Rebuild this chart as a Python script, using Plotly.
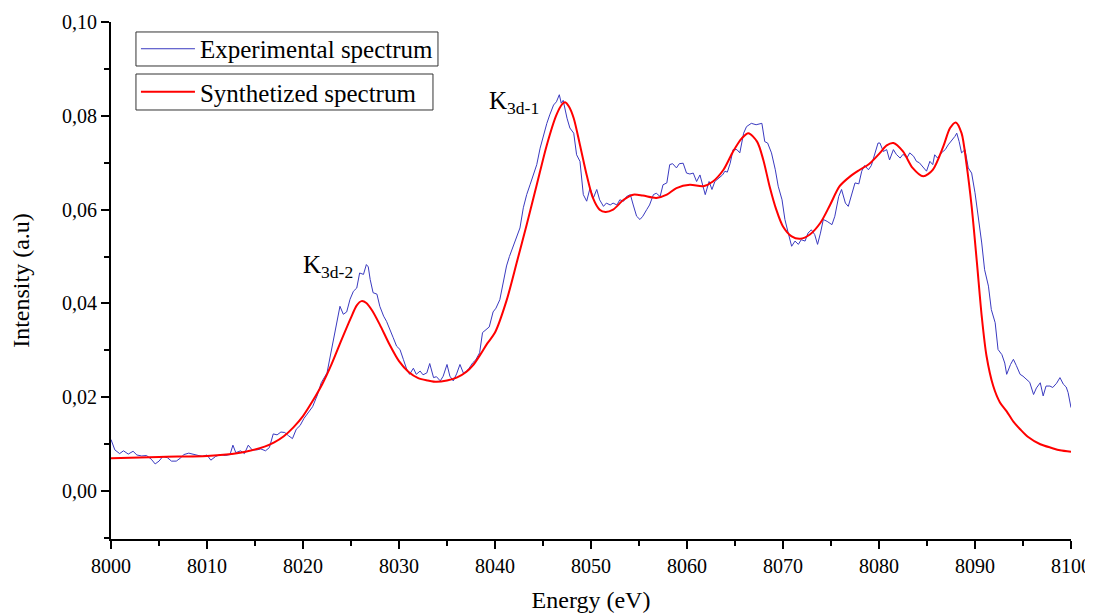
import plotly.graph_objects as go

# Experimental spectrum (energy in eV, intensity a.u.)
exp_energy = [
    8000.0, 8000.4, 8000.9, 8001.3, 8001.8, 8002.3, 8002.7, 8003.2, 8003.7, 8004.2,
    8004.6, 8005.0, 8005.4, 8005.9, 8006.3, 8006.8, 8007.2, 8007.6, 8008.1, 8008.6,
    8009.0, 8009.5, 8010.0, 8010.4, 8010.9, 8011.4, 8011.9, 8012.4, 8012.7, 8013.0,
    8013.5, 8013.9, 8014.3, 8014.7, 8015.2, 8015.6, 8016.1, 8016.5, 8016.9, 8017.3,
    8017.7, 8018.1, 8018.5, 8018.9, 8019.3, 8019.7, 8020.1, 8020.6, 8021.0, 8021.5,
    8021.9, 8022.5, 8023.0, 8023.5, 8023.85, 8024.2, 8024.55, 8024.9, 8025.25, 8025.6,
    8025.9, 8026.3, 8026.6, 8026.8, 8027.0, 8027.3, 8027.7, 8028.0, 8028.4, 8028.7,
    8029.0, 8029.4, 8029.75, 8030.1, 8030.45, 8030.8, 8031.1, 8031.5, 8031.8, 8032.2,
    8032.5, 8032.9, 8033.2, 8033.6, 8033.9, 8034.3, 8034.6, 8035.0, 8035.3, 8035.65,
    8036.0, 8036.35, 8036.7, 8037.0, 8037.3, 8037.7, 8038.0, 8038.4, 8038.7, 8039.1,
    8039.4, 8039.8, 8040.1, 8040.5, 8040.8, 8041.2, 8041.5, 8041.7, 8042.1, 8042.6,
    8042.95, 8043.3, 8043.65, 8044.0, 8044.35, 8044.7, 8045.05, 8045.4, 8045.7, 8046.1,
    8046.4, 8046.7, 8046.9, 8047.1, 8047.5, 8047.8, 8048.2, 8048.5, 8048.85, 8049.2,
    8049.55, 8049.9, 8050.25, 8050.6, 8050.9, 8051.3, 8051.6, 8052.0, 8052.3, 8052.7,
    8053.0, 8053.4, 8053.7, 8054.1, 8054.4, 8054.75, 8055.1, 8055.4, 8055.8, 8056.1,
    8056.5, 8056.8, 8057.2, 8057.5, 8057.9, 8058.2, 8058.5, 8058.9, 8059.2, 8059.6,
    8059.95, 8060.3, 8060.65, 8061.0, 8061.35, 8061.7, 8061.9, 8062.3, 8062.6, 8062.9,
    8063.3, 8063.7, 8063.95, 8064.2, 8064.5, 8064.8, 8065.2, 8065.5, 8065.9, 8066.2,
    8066.7, 8067.2, 8067.8, 8068.1, 8068.4, 8068.8, 8069.2, 8069.5, 8069.9, 8070.2,
    8070.55, 8070.9, 8071.25, 8071.6, 8071.9, 8072.3, 8072.6, 8072.95, 8073.3, 8073.6,
    8073.9, 8074.2, 8074.6, 8075.1, 8075.4, 8075.8, 8076.1, 8076.5, 8076.8, 8077.2,
    8077.5, 8077.9, 8078.2, 8078.5, 8078.9, 8079.2, 8079.6, 8079.9, 8080.1, 8080.45,
    8080.8, 8081.1, 8081.5, 8081.8, 8082.2, 8082.5, 8082.9, 8083.2, 8083.6, 8083.9,
    8084.2, 8084.6, 8084.95, 8085.3, 8085.6, 8085.8, 8086.1, 8086.5, 8086.9, 8087.2,
    8087.5, 8087.9, 8088.1, 8088.35, 8088.6, 8088.96, 8089.3, 8089.65, 8090.0, 8090.35,
    8090.7, 8091.0, 8091.4, 8091.7, 8092.1, 8092.4, 8092.8, 8093.1, 8093.3, 8093.7,
    8094.0, 8094.3, 8094.7, 8095.0, 8095.4, 8095.7, 8096.1, 8096.4, 8096.8, 8097.1,
    8097.4, 8097.8, 8098.1, 8098.5, 8098.85, 8099.2, 8099.5, 8099.7, 8100.0,
]
exp_intensity = [
    0.0110, 0.0088, 0.0080, 0.0086, 0.0079, 0.0085, 0.0077, 0.0075, 0.0076, 0.0068,
    0.0058, 0.0064, 0.0074, 0.0071, 0.0064, 0.0064, 0.0070, 0.0078, 0.0081, 0.0079,
    0.0076, 0.0074, 0.0077, 0.0066, 0.0074, 0.0078, 0.0076, 0.0078, 0.0098, 0.0082,
    0.0086, 0.0080, 0.0098, 0.0088, 0.0088, 0.0090, 0.0086, 0.0093, 0.0122, 0.0120,
    0.0126, 0.0125, 0.0118, 0.0112, 0.0132, 0.0140, 0.0155, 0.0168, 0.0180, 0.0205,
    0.0231, 0.0252, 0.0302, 0.0352, 0.0394, 0.0377, 0.0382, 0.0409, 0.0426, 0.0433,
    0.0465, 0.0462, 0.0483, 0.0478, 0.0451, 0.0423, 0.0420, 0.0394, 0.0373, 0.0362,
    0.0345, 0.0327, 0.0309, 0.0302, 0.0281, 0.0260, 0.0249, 0.0262, 0.0249, 0.0256,
    0.0248, 0.0252, 0.0272, 0.0242, 0.0244, 0.0235, 0.0245, 0.0270, 0.0245, 0.0235,
    0.0250, 0.0270, 0.0252, 0.0255, 0.0262, 0.0274, 0.0280, 0.0295, 0.0338, 0.0345,
    0.0350, 0.0382, 0.0390, 0.0408, 0.0437, 0.0480, 0.0500, 0.0511, 0.0536, 0.0561,
    0.0604, 0.0632, 0.0653, 0.0674, 0.0696, 0.0731, 0.0760, 0.0784, 0.0802, 0.0823,
    0.0830, 0.0845, 0.0827, 0.0833, 0.0795, 0.0774, 0.0763, 0.0717, 0.0703, 0.0632,
    0.0618, 0.0646, 0.0625, 0.0643, 0.0621, 0.0607, 0.0614, 0.0610, 0.0614, 0.0610,
    0.0621, 0.0618, 0.0628, 0.0632, 0.0610, 0.0586, 0.0579, 0.0586, 0.0600, 0.0610,
    0.0632, 0.0635, 0.0628, 0.0653, 0.0657, 0.0696, 0.0698, 0.0689, 0.0698, 0.0699,
    0.0678, 0.0676, 0.0678, 0.0660, 0.0674, 0.0650, 0.0632, 0.0660, 0.0643, 0.0660,
    0.0667, 0.0674, 0.0682, 0.0680, 0.0699, 0.0728, 0.0728, 0.0721, 0.0763, 0.0777,
    0.0784, 0.0781, 0.0784, 0.0745, 0.0742, 0.0721, 0.0685, 0.0650, 0.0621, 0.0579,
    0.0550, 0.0522, 0.0533, 0.0526, 0.0536, 0.0533, 0.0550, 0.0557, 0.0547, 0.0526,
    0.0550, 0.0579, 0.0575, 0.0568, 0.0586, 0.0628, 0.0643, 0.0614, 0.0607, 0.0636,
    0.0657, 0.0655, 0.0682, 0.0694, 0.0685, 0.0694, 0.0724, 0.0742, 0.0742, 0.0724,
    0.0728, 0.0706, 0.0728, 0.0718, 0.0710, 0.0718, 0.0710, 0.0721, 0.0714, 0.0703,
    0.0700, 0.0689, 0.0682, 0.0703, 0.0696, 0.0717, 0.0710, 0.0721, 0.0728, 0.0738,
    0.0745, 0.0756, 0.0763, 0.0745, 0.0721, 0.0728, 0.0689, 0.0678, 0.0636, 0.0586,
    0.0529, 0.0472, 0.0437, 0.0387, 0.0359, 0.0302, 0.0291, 0.0273, 0.0249, 0.0270,
    0.0281, 0.0268, 0.0249, 0.0245, 0.0238, 0.0232, 0.0206, 0.0220, 0.0231, 0.0203,
    0.0224, 0.0224, 0.0221, 0.0230, 0.0242, 0.0228, 0.0222, 0.0210, 0.0178,
]

# Synthetized spectrum
syn_energy = [
    8000, 8005, 8010, 8012, 8014, 8016, 8017, 8018, 8019, 8020,
    8021, 8022, 8023, 8024, 8025, 8025.6, 8026.1, 8026.6, 8027.2, 8028,
    8029, 8030, 8031, 8032, 8033, 8033.9, 8035, 8036, 8037, 8037.7,
    8038.5, 8039.2, 8040, 8041.2, 8042.3, 8043.3, 8044.35, 8045.4, 8046.4, 8047.0,
    8047.3, 8047.7, 8048.2, 8048.85, 8049.55, 8050.2, 8050.9, 8051.5, 8052.3, 8053.4,
    8054.4, 8055.4, 8056.8, 8057.9, 8058.9, 8060.3, 8061.7, 8062.7, 8063.8, 8064.8,
    8065.7, 8066.4, 8067.3, 8067.95, 8068.6, 8069.3, 8070.0, 8070.9, 8071.8, 8072.8,
    8073.9, 8074.9, 8075.9, 8077.0, 8078.0, 8079.0, 8080.1, 8080.8, 8081.5, 8082.5,
    8083.5, 8084.6, 8085.6, 8086.7, 8087.4, 8088.0, 8088.6, 8089.1, 8089.65, 8090.2,
    8090.7, 8091.2, 8091.9, 8092.6, 8093.3, 8094.0, 8094.7, 8095.5, 8096.8, 8098.0,
    8098.85, 8100,
]
syn_intensity = [
    0.0070, 0.0073, 0.0075, 0.0078, 0.0084, 0.0095, 0.0104, 0.0117, 0.0136, 0.0160,
    0.0192, 0.0228, 0.0272, 0.0322, 0.0370, 0.0396, 0.0405, 0.0401, 0.0385, 0.0355,
    0.0313, 0.0277, 0.0254, 0.0241, 0.0236, 0.0233, 0.0236, 0.0242, 0.0254, 0.0268,
    0.0292, 0.0315, 0.0338, 0.0406, 0.0490, 0.0568, 0.0653, 0.0738, 0.0802, 0.0825,
    0.0829, 0.0820, 0.0795, 0.0738, 0.0674, 0.0625, 0.0600, 0.0595, 0.0600, 0.0621,
    0.0632, 0.0630, 0.0625, 0.0632, 0.0646, 0.0653, 0.0650, 0.0660, 0.0685, 0.0724,
    0.0752, 0.0763, 0.0745, 0.0706, 0.0650, 0.0600, 0.0564, 0.0543, 0.0538, 0.0547,
    0.0572, 0.0610, 0.0650, 0.0671, 0.0685, 0.0698, 0.0721, 0.0737, 0.0742, 0.0724,
    0.0689, 0.0671, 0.0685, 0.0735, 0.0774, 0.0786, 0.0763, 0.0699, 0.0607, 0.0487,
    0.0373, 0.0288, 0.0224, 0.0189, 0.0170, 0.0148, 0.0132, 0.0116, 0.0100, 0.0092,
    0.0087, 0.0084,
]

x_ticks = [8000, 8010, 8020, 8030, 8040, 8050, 8060, 8070, 8080, 8090, 8100]
y_ticks = [0.00, 0.02, 0.04, 0.06, 0.08, 0.10]

FONT = "Times New Roman, Liberation Serif, serif"

fig = go.Figure()
fig.add_trace(go.Scatter(
    x=exp_energy, y=exp_intensity, mode="lines",
    name="Experimental spectrum",
    line=dict(color="#3a3ac0", width=1),
    legend="legend",
))
fig.add_trace(go.Scatter(
    x=syn_energy, y=syn_intensity, mode="lines",
    name="Synthetized spectrum",
    line=dict(color="#ff0000", width=2, shape="spline", smoothing=0.8),
    legend="legend2",
))

fig.add_annotation(x=8022.6, y=0.0478, xref="x", yref="y",
                   text="K<sub>3d-2</sub>", showarrow=False,
                   font=dict(family=FONT, size=25, color="black"))
fig.add_annotation(x=8042.0, y=0.0828, xref="x", yref="y",
                   text="K<sub>3d-1</sub>", showarrow=False,
                   font=dict(family=FONT, size=25, color="black"))

# legend frames (each entry boxed separately, as in the original)
box_style = dict(type="rect", xref="paper", yref="paper",
                 line=dict(color="#333333", width=1), fillcolor="rgba(0,0,0,0)")
fig.add_shape(x0=0.026, x1=0.3406, y0=0.9149, y1=0.9807, **box_style)
fig.add_shape(x0=0.026, x1=0.3354, y0=0.8298, y1=0.8994, **box_style)

axis_common = dict(
    showline=True, linecolor="black", linewidth=2, mirror=False,
    showgrid=False, zeroline=False, automargin=False,
    ticks="outside", ticklen=8, tickwidth=2, tickcolor="black",
)

legend_common = dict(
    xanchor="left", yanchor="middle",
    borderwidth=0, bgcolor="rgba(0,0,0,0)",
    font=dict(family=FONT, size=25, color="black"),
    itemwidth=54, tracegroupgap=0,
)

fig.update_layout(
    width=1110, height=615,
    margin=dict(l=103, r=47, t=14, b=84),
    paper_bgcolor="white", plot_bgcolor="white",
    separators=",.",
    font=dict(family=FONT, color="black", size=20),
    showlegend=True,
    xaxis=dict(
        range=[8000, 8100], tickvals=x_ticks,
        title=dict(text="Energy (eV)", font=dict(family=FONT, size=24, color="black"), standoff=15),
        minor=dict(dtick=5, ticks="outside", ticklen=5, tickwidth=1.5, tickcolor="black"),
        **axis_common,
    ),
    yaxis=dict(
        range=[-0.0102, 0.10], tickvals=y_ticks, tickformat=".2f",
        title=dict(text="Intensity (a.u)", font=dict(family=FONT, size=24, color="black"), standoff=32),
        minor=dict(dtick=0.01, tick0=0, ticks="outside", ticklen=5, tickwidth=1.5, tickcolor="black"),
        **axis_common,
    ),
    legend=dict(x=0.026, y=0.9478, **legend_common),
    legend2=dict(x=0.026, y=0.8646, **legend_common),
)
fig.update_xaxes(tickfont=dict(family="Liberation Serif", size=20, color="black"))
fig.update_yaxes(tickfont=dict(family="Liberation Serif", size=20, color="black"))

fig.write_html(
    "out.html",
    post_script="document.documentElement.style.overflow='hidden';document.body.style.overflow='hidden';",
)
